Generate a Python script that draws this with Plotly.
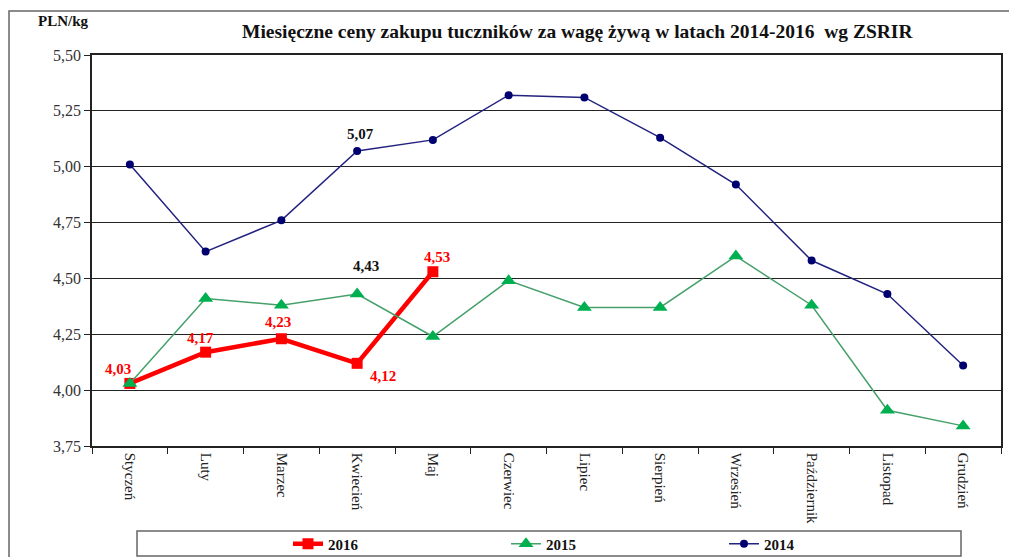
import plotly.graph_objects as go

months = ["Styczeń", "Luty", "Marzec", "Kwiecień", "Maj", "Czerwiec", "Lipiec",
          "Sierpień", "Wrzesień", "Październik", "Listopad", "Grudzień"]
v2014 = [5.01, 4.62, 4.76, 5.07, 5.12, 5.32, 5.31, 5.13, 4.92, 4.58, 4.43, 4.11]
v2015 = [4.03, 4.41, 4.38, 4.43, 4.24, 4.49, 4.37, 4.37, 4.60, 4.38, 3.91, 3.84]
v2016 = [4.03, 4.17, 4.23, 4.12, 4.53]
ytick_vals = [3.75, 4.00, 4.25, 4.50, 4.75, 5.00, 5.25, 5.50]

SERIF = "Liberation Serif"
W, H = 1009, 557
L, R, T, B = 92, 8, 55, 111
pw, ph = W - L - R, H - T - B

def px(xpix):
    return (xpix - L) / pw

def py(ypix):
    return (H - B - ypix) / ph

def fmt(v):
    return f"{v:.2f}".replace(".", ",")

fig = go.Figure()
fig.add_trace(go.Scatter(
    x=months[:len(v2016)], y=v2016, name="2016", mode="lines+markers",
    line=dict(color="#FF0000", width=4.5),
    marker=dict(symbol="square", size=11, color="#FF0000"),
))
fig.add_trace(go.Scatter(
    x=months, y=v2015, name="2015", mode="lines+markers",
    line=dict(color="#45A06A", width=1.5),
    marker=dict(symbol="triangle-up", size=13, color="#00B050"),
))
fig.add_trace(go.Scatter(
    x=months, y=v2014, name="2014", mode="lines+markers",
    line=dict(color="#22227F", width=1.5),
    marker=dict(symbol="circle", size=8, color="#000070"),
))

# data labels (offsets in pixels)
red_offsets = [(-12, 14), (-5, 14), (-3, 17), (26, -13), (4, 15)]
for i, v in enumerate(v2016):
    dx, dy = red_offsets[i]
    fig.add_annotation(x=months[i], y=v, text=fmt(v), showarrow=False,
                       xshift=dx, yshift=dy,
                       font=dict(family=SERIF, size=15, color="#FF0000", weight="bold"))
fig.add_annotation(x=months[3], y=v2014[3], text=fmt(v2014[3]), showarrow=False,
                   xshift=3, yshift=17,
                   font=dict(family=SERIF, size=15, color="#111111", weight="bold"))
fig.add_annotation(x=months[3], y=v2015[3], text=fmt(v2015[3]), showarrow=False,
                   xshift=9, yshift=28,
                   font=dict(family=SERIF, size=15, color="#111111", weight="bold"))

# title and unit
fig.add_annotation(xref="paper", yref="paper", x=px(577), y=py(32),
                   text="Miesięczne ceny zakupu tuczników za wagę żywą w latach 2014-2016  wg ZSRIR",
                   showarrow=False, xanchor="center", yanchor="middle",
                   font=dict(family=SERIF, size=19.5, color="#111111", weight="bold"))
fig.add_annotation(xref="paper", yref="paper", x=px(36), y=py(21),
                   text="PLN/kg", showarrow=False, xanchor="left", yanchor="middle",
                   font=dict(family=SERIF, size=15, color="#111111", weight="bold"))

# outer frame and legend frame
fig.add_shape(type="rect", xref="paper", yref="paper",
              x0=px(9), x1=px(1012), y0=py(11), y1=py(562),
              line=dict(color="#666666", width=1.5), fillcolor="rgba(0,0,0,0)", layer="below")
fig.add_shape(type="rect", xref="paper", yref="paper",
              x0=px(137), x1=px(961), y0=py(531), y1=py(556),
              line=dict(color="#666666", width=1.5), fillcolor="rgba(0,0,0,0)")

fig.update_layout(
    width=W, height=H,
    margin=dict(l=L, r=R, t=T, b=B, autoexpand=False),
    paper_bgcolor="white", plot_bgcolor="white",
    separators=", ",
    showlegend=True,
    legend=dict(orientation="h", x=px(288), y=py(544), xanchor="left", yanchor="middle",
                entrywidth=173, entrywidthmode="pixels",
                font=dict(family=SERIF, size=15, color="#111111", weight="bold"),
                bgcolor="rgba(0,0,0,0)", borderwidth=0, itemwidth=30,
                traceorder="normal"),
    font=dict(family=SERIF, color="#222222"),
)
fig.update_xaxes(
    type="category", categoryorder="array", categoryarray=months,
    range=[-0.5, 11.5], tickangle=90, tickson="boundaries",
    ticks="outside", ticklen=6, tickcolor="#222222",
    showline=True, linecolor="#222222", linewidth=1.5, mirror=True,
    showgrid=False, automargin=False, ticklabelstandoff=2,
    tickfont=dict(family=SERIF, size=15, color="#222222"),
)
fig.update_yaxes(
    range=[3.75, 5.50], tickvals=ytick_vals, tickformat=".2f",
    ticks="outside", ticklen=6, tickcolor="#222222",
    showline=True, linecolor="#222222", linewidth=1.5, mirror=True,
    showgrid=True, gridcolor="#222222", gridwidth=1, zeroline=False,
    automargin=False,
    tickfont=dict(family=SERIF, size=16, color="#333333"),
)

fig.write_html("out.html", config={"displayModeBar": False},
               post_script="document.body.style.margin='0';")
